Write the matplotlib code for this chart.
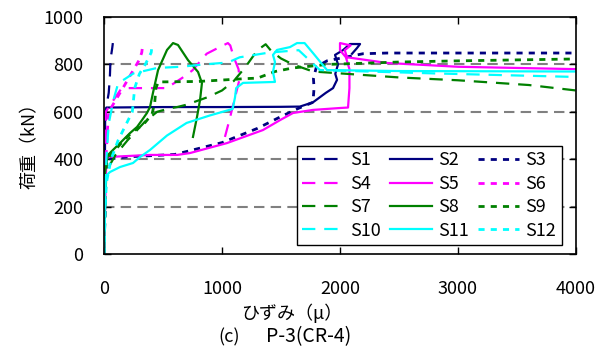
import matplotlib
matplotlib.use("Agg")
import matplotlib.pyplot as plt

plt.rcParams['font.family'] = ['Noto Sans CJK JP', 'DejaVu Sans']

# strain (micro) / load (kN) per gauge
s1_x = [0, 5, 8, 10, 12, 20, 40, 50, 55, 70, 75]
s1_y = [0, 150, 300, 450, 560, 620, 680, 750, 820, 870, 890]

s2_x = [0, 5, 8, 10, 20, 500, 1000, 1500, 1660, 1771, 1880, 1941, 1975, 1960, 1983, 1958, 2025, 2085, 2170, 2144, 2102]
s2_y = [0, 200, 400, 600, 618, 620, 620, 621, 622, 640, 680, 700, 735, 760, 800, 840, 860, 886, 886, 869, 845]

s3_x = [0, 10, 20, 200, 600, 1000, 1300, 1500, 1650, 1771, 1780, 1775, 1800, 1890, 2195, 2400, 4000]
s3_y = [0, 200, 400, 410, 420, 470, 530, 580, 615, 640, 700, 740, 790, 815, 845, 848, 848]

s4_x = [0, 5, 10, 15, 40, 150, 530, 660, 750, 870, 980, 1050, 1070, 1100, 1140, 1150, 1100, 1060, 1025]
s4_y = [0, 200, 400, 600, 620, 700, 700, 742, 775, 845, 873, 890, 880, 830, 780, 740, 640, 560, 494]

s5_x = [0, 10, 20, 390, 619, 729, 1042, 1347, 1492, 1602, 1771, 2000, 2068, 2080, 2080, 2050, 2000, 2000, 2090, 2040, 2060, 2400, 3000, 4000]
s5_y = [0, 200, 409, 418, 418, 426, 468, 523, 565, 595, 608, 616, 618, 700, 780, 830, 860, 890, 880, 860, 830, 806, 790, 780]

s6_x = [0, 10, 20, 30, 40, 100, 160, 230, 300, 320, 330]
s6_y = [0, 300, 440, 530, 600, 650, 700, 760, 820, 850, 890]

s7_x = [0, 10, 20, 100, 200, 350, 450, 560, 620, 700, 880, 1000, 1100, 1200, 1300, 1370, 1420, 1500, 1600, 1771, 2500, 3000, 3600, 4000]
s7_y = [0, 200, 350, 420, 480, 560, 600, 615, 620, 630, 662, 690, 730, 790, 860, 885, 855, 825, 800, 770, 745, 733, 713, 690]

s8_x = [0, 5, 8, 20, 34, 76, 136, 220, 280, 322, 364, 390, 415, 458, 534, 585, 627, 712, 797, 830, 814, 788, 754]
s8_y = [0, 150, 340, 385, 418, 439, 468, 510, 536, 565, 595, 620, 680, 776, 861, 890, 882, 818, 768, 721, 650, 578, 494]

s9_x = [0, 10, 20, 60, 150, 250, 330, 407, 430, 440, 460, 800, 1200, 1300, 1450, 1600, 1700, 1900, 2200, 2500, 3000, 4000]
s9_y = [0, 200, 380, 420, 470, 520, 544, 590, 640, 700, 726, 728, 740, 742, 770, 785, 790, 800, 805, 810, 815, 823]

s10_x = [0, 10, 20, 40, 80, 120, 250, 450, 650, 850, 1050, 1150, 1400, 1650, 1830, 2800, 4000]
s10_y = [0, 200, 400, 550, 650, 720, 762, 785, 790, 800, 808, 830, 850, 860, 776, 762, 747]

s11_x = [0, 5, 8, 51, 136, 246, 305, 390, 534, 700, 900, 1090, 1110, 1120, 1178, 1449, 1432, 1449, 1432, 1466, 1576, 1636, 1700, 1771, 1890, 2500, 4000]
s11_y = [0, 150, 325, 346, 367, 384, 409, 439, 500, 553, 585, 612, 660, 700, 722, 726, 768, 810, 840, 861, 873, 890, 890, 848, 776, 772, 770]

s12_x = [0, 10, 20, 60, 120, 180, 240, 260, 300, 350, 400, 410]
s12_y = [0, 200, 300, 400, 480, 540, 600, 700, 760, 800, 850, 890]

labels = ['S1', 'S2', 'S3', 'S4', 'S5', 'S6', 'S7', 'S8', 'S9', 'S10', 'S11', 'S12']
xs = [s1_x, s2_x, s3_x, s4_x, s5_x, s6_x, s7_x, s8_x, s9_x, s10_x, s11_x, s12_x]
ys = [s1_y, s2_y, s3_y, s4_y, s5_y, s6_y, s7_y, s8_y, s9_y, s10_y, s11_y, s12_y]

x_ticks = [0, 1000, 2000, 3000, 4000]
y_ticks = [0, 200, 400, 600, 800, 1000]

colors = ['#000080', '#FF00FF', '#008000', '#00FFFF']
styles = [((0, (6, 4)), 1.6), ('-', 1.6), ((0, (2.2, 2.2)), 2.0)]

W, H = 606, 349
fig = plt.figure(figsize=(W / 100, H / 100), dpi=100)
ax = fig.add_axes([104 / W, 1 - 254 / H, 472 / W, 237 / H])

for y in [200, 400, 600, 800]:
    ax.axhline(y, color='#808080', lw=1.5, ls=(0, (5, 3)), zorder=1)

handles = []
for i, (lab, x, y) in enumerate(zip(labels, xs, ys)):
    c = colors[i // 3]
    ls, lw = styles[i % 3]
    h, = ax.plot(x, y, color=c, ls=ls, lw=lw, label=lab, zorder=2)
    handles.append(h)

ax.set_xlim(0, 4000)
ax.set_ylim(0, 1000)
ax.set_xticks(x_ticks)
ax.set_yticks(y_ticks)
ax.tick_params(direction='in', length=5, width=1, top=True, right=True,
               labelsize=13)
ax.tick_params(axis='x', pad=19)
ax.tick_params(axis='y', pad=15)
for sp in ax.spines.values():
    sp.set_linewidth(1.2)

fig.text(292 / W, 1 - 313 / H, 'ひずみ（μ）', ha='center', va='center', fontsize=13)
fig.text(30 / W, 1 - 141 / H, '荷重（kN）', ha='center', va='center',
         rotation=90, fontsize=13)
fig.text(218 / W, 1 - 337 / H, '(c)', ha='left', va='center', fontsize=13)
fig.text(266 / W, 1 - 337 / H, 'P-3(CR-4)', ha='left', va='center', fontsize=14)

order = [0, 3, 6, 9, 1, 4, 7, 10, 2, 5, 8, 11]
leg = ax.legend([handles[k] for k in order], [labels[k] for k in order],
                ncol=3, loc='upper left',
                bbox_to_anchor=((297 - 104) / 472, (254 - 146) / 237),
                fontsize=13, frameon=True, fancybox=False, edgecolor='black',
                framealpha=1, handlelength=2.3, handletextpad=0.35,
                columnspacing=0.5, labelspacing=0.3, borderpad=0.3,
                borderaxespad=0)
leg.get_frame().set_linewidth(1.0)

fig.savefig('out.png', dpi=100)
